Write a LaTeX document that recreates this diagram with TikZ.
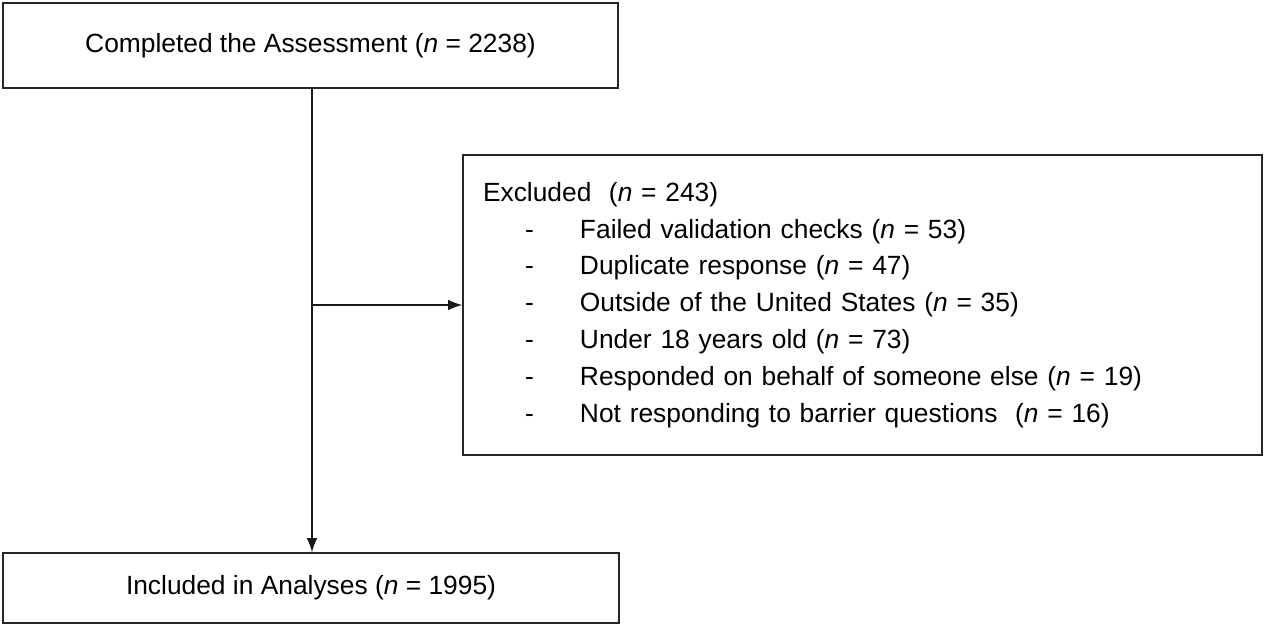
\documentclass[tikz,border=0pt]{standalone}
\usepackage{fontspec}
\setmainfont{Liberation Sans}
\usetikzlibrary{arrows.meta}
\tikzset{
  flowbox/.style={draw=black!85, line width=0.8pt, inner sep=0pt, font=\fontsize{15}{21}\selectfont},
  flowarrow/.style={draw=black!90, line width=0.8pt, -{Latex[length=8pt,width=6pt]}}
}
\newcommand{\nn}{\textit{n}}
\newcommand{\exitem}[1]{\hspace*{0.84cm}\makebox[1.1cm][l]{-}#1}
\begin{document}
\begin{tikzpicture}
\useasboundingbox (0,0) rectangle (25.28,-12.5);
\node[flowbox, minimum width=12.3cm, minimum height=1.7cm] (start) at (6.21,-0.91)
  {Completed the Assessment (\nn{} = 2238)};
\node[flowbox, minimum width=12.32cm, minimum height=1.4cm] (incl) at (6.22,-11.76)
  {Included in Analyses (\nn{} = 1995)};
\node[flowbox, minimum width=15.98cm, minimum height=6cm, text width=15.18cm, align=left] (excl) at (17.25,-6.1)
  {Excluded~~(\nn{} = 243)\\
   \exitem{Failed validation checks (\nn{} = 53)}\\
   \exitem{Duplicate response (\nn{} = 47)}\\
   \exitem{Outside of the United States (\nn{} = 35)}\\
   \exitem{Under 18 years old (\nn{} = 73)}\\
   \exitem{Responded on behalf of someone else (\nn{} = 19)}\\
   \exitem{Not responding to barrier questions~~(\nn{} = 16)}};
\draw[flowarrow] ([xshift=0.03cm]start.south) -- ([xshift=0.03cm]start.south |- incl.north);
\draw[flowarrow] ([xshift=0.03cm]start.south |- excl.west) -- (excl.west);
\end{tikzpicture}
\end{document}
